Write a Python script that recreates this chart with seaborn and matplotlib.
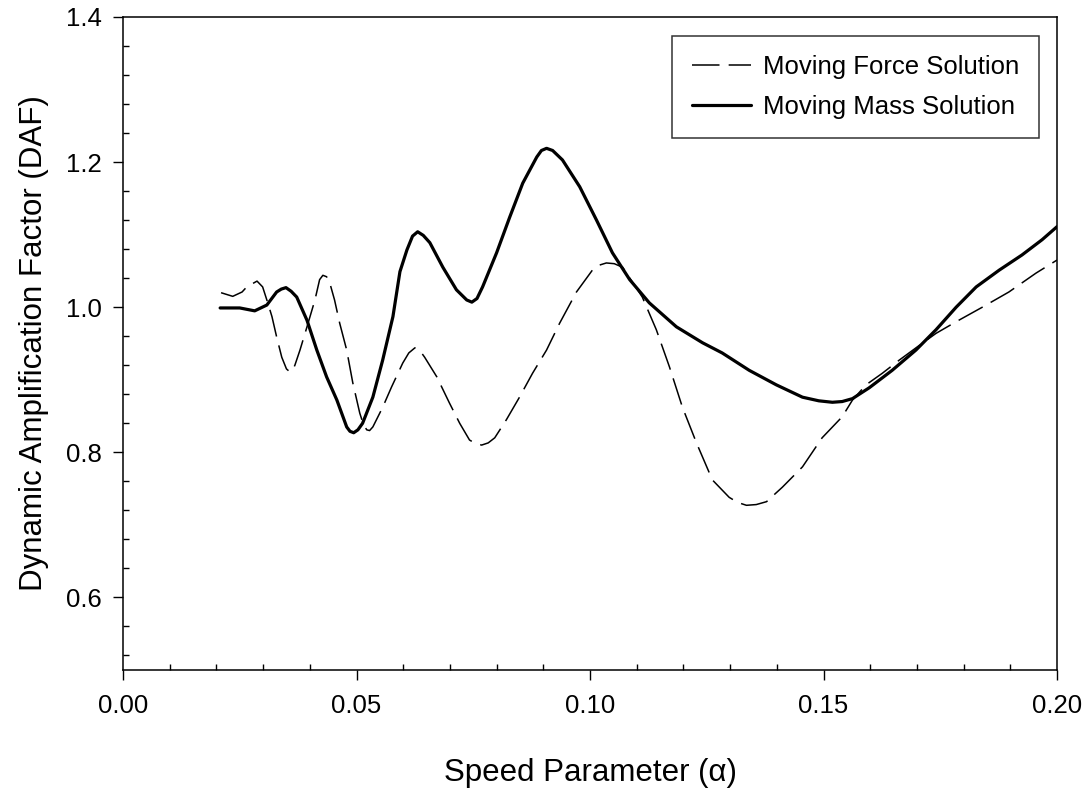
import matplotlib
matplotlib.use("Agg")
import matplotlib.pyplot as plt
import seaborn as sns
import pandas as pd
from matplotlib.ticker import MultipleLocator, FormatStrFormatter

# ---- data ----
mass_x = [0.0208, 0.0250, 0.0282, 0.0308, 0.0329, 0.0339, 0.0349, 0.0360, 0.0372,
          0.0394, 0.0415, 0.0436, 0.0458, 0.0479, 0.0486, 0.0494, 0.0503, 0.0513,
          0.0535, 0.0556, 0.0578, 0.0593, 0.0608, 0.0620, 0.0631, 0.0643, 0.0657,
          0.0685, 0.0714, 0.0736, 0.0747, 0.0758, 0.0770, 0.0800, 0.0828, 0.0856,
          0.0886, 0.0896, 0.0907, 0.0920, 0.0941, 0.0978, 0.1014, 0.1048, 0.1085,
          0.1127, 0.1185, 0.1241, 0.1283, 0.1341, 0.1399, 0.1455, 0.1490, 0.1519,
          0.1540, 0.1562, 0.1598, 0.1647, 0.1698, 0.1741, 0.1784, 0.1827, 0.1876,
          0.1925, 0.1968, 0.2000]
mass_y = [0.999, 0.999, 0.995, 1.003, 1.021, 1.025, 1.027, 1.022, 1.014,
          0.982, 0.941, 0.904, 0.872, 0.835, 0.829, 0.827, 0.831, 0.840,
          0.876, 0.927, 0.987, 1.049, 1.079, 1.098, 1.104, 1.099, 1.089,
          1.055, 1.024, 1.010, 1.007, 1.012, 1.028, 1.075, 1.124, 1.171,
          1.207, 1.216, 1.219, 1.216, 1.203, 1.166, 1.120, 1.075, 1.038,
          1.006, 0.973, 0.951, 0.937, 0.913, 0.893, 0.876, 0.871, 0.869,
          0.870, 0.874, 0.889, 0.913, 0.941, 0.969, 1.000, 1.028, 1.051,
          1.072, 1.093, 1.111]

force_x = [0.0210, 0.0235, 0.0255, 0.0265, 0.0287, 0.0299, 0.0310, 0.0319, 0.0329,
           0.0340, 0.0350, 0.0357, 0.0363, 0.0368, 0.0379, 0.0394, 0.0411, 0.0421,
           0.0428, 0.0436, 0.0443, 0.0453, 0.0464, 0.0479, 0.0492, 0.0507, 0.0515,
           0.0522, 0.0528, 0.0535, 0.0556, 0.0575, 0.0599, 0.0612, 0.0625, 0.0636,
           0.0646, 0.0672, 0.0699, 0.0721, 0.0742, 0.0755, 0.0768, 0.0782, 0.0796,
           0.0821, 0.0849, 0.0877, 0.0907, 0.0935, 0.0971, 0.1005, 0.1020, 0.1035,
           0.1052, 0.1070, 0.1112, 0.1142, 0.1170, 0.1198, 0.1228, 0.1262, 0.1298,
           0.1316, 0.1335, 0.1356, 0.1378, 0.1412, 0.1455, 0.1497, 0.1540, 0.1562,
           0.1591, 0.1626, 0.1662, 0.1698, 0.1741, 0.1784, 0.1840, 0.1897, 0.1955,
           0.2000]
force_y = [1.020, 1.015, 1.021, 1.028, 1.036, 1.028, 1.006, 0.987, 0.959,
           0.931, 0.915, 0.911, 0.913, 0.920, 0.941, 0.973, 1.010, 1.038,
           1.044, 1.042, 1.033, 1.010, 0.978, 0.941, 0.896, 0.854, 0.838,
           0.831, 0.830, 0.835, 0.862, 0.890, 0.923, 0.937, 0.944, 0.940,
           0.931, 0.904, 0.868, 0.840, 0.817, 0.812, 0.810, 0.813, 0.820,
           0.845, 0.876, 0.909, 0.941, 0.978, 1.021, 1.051, 1.058, 1.061,
           1.060, 1.055, 1.014, 0.969, 0.918, 0.862, 0.813, 0.762, 0.738,
           0.731, 0.727, 0.728, 0.732, 0.752, 0.780, 0.820, 0.849, 0.872,
           0.893, 0.909, 0.927, 0.944, 0.964, 0.980, 1.000, 1.021, 1.047,
           1.065]

x_ticks = [0.00, 0.05, 0.10, 0.15, 0.20]
y_ticks = [0.6, 0.8, 1.0, 1.2, 1.4]
labels = ["Moving Force Solution", "Moving Mass Solution"]

sns.set_style("ticks")
plt.rcParams["font.family"] = ["Liberation Sans", "DejaVu Sans"]
plt.rcParams["text.color"] = "black"
plt.rcParams["axes.labelcolor"] = "black"
plt.rcParams["xtick.color"] = "black"
plt.rcParams["ytick.color"] = "black"

fig = plt.figure(figsize=(10.91, 7.90), dpi=100)
ax = fig.add_axes([123 / 1091, 1 - 670 / 790, (1057 - 123) / 1091, (670 - 17) / 790])

df_force = pd.DataFrame({"x": force_x, "y": force_y})
df_mass = pd.DataFrame({"x": mass_x, "y": mass_y})

sns.lineplot(data=df_force, x="x", y="y", ax=ax, color="black", linewidth=1.1,
             label=labels[0], sort=False)
ax.lines[-1].set_dashes((18, 6))
sns.lineplot(data=df_mass, x="x", y="y", ax=ax, color="black", linewidth=2.3,
             label=labels[1], sort=False)
for ln in ax.lines:
    ln.set_solid_joinstyle("round")
    ln.set_dash_joinstyle("round")

ax.set_xlim(0.0, 0.2)
ax.set_ylim(0.5, 1.4)
ax.set_xticks(x_ticks)
ax.set_yticks(y_ticks)
ax.xaxis.set_major_formatter(FormatStrFormatter("%.2f"))
ax.yaxis.set_major_formatter(FormatStrFormatter("%.1f"))
ax.xaxis.set_minor_locator(MultipleLocator(0.01))
ax.yaxis.set_minor_locator(MultipleLocator(0.04))
ax.tick_params(which="major", direction="out", length=7.2, width=1.0, colors="black",
               labelsize=18.5, labelcolor="black")
ax.tick_params(axis="x", which="major", pad=10)
ax.tick_params(axis="y", which="major", pad=8)
ax.tick_params(which="minor", direction="in", length=4.5, width=1.0, colors="black")
ax.tick_params(top=False, right=False, which="both")
for s in ax.spines.values():
    s.set_visible(True)
    s.set_linewidth(1.1)
    s.set_color("black")

ax.set_xlabel("Speed Parameter (α)", fontsize=22.5, labelpad=29, color="black")
ax.set_ylabel("Dynamic Amplification Factor (DAF)", fontsize=22.5, labelpad=12,
              color="black")

leg = ax.legend(loc="upper right", bbox_to_anchor=(0.9807, 0.9709), borderaxespad=0,
                fontsize=18.5, handlelength=2.3, handletextpad=0.5, borderpad=0.75,
                labelspacing=0.6, frameon=True, fancybox=False, edgecolor="black")
leg.get_frame().set_linewidth(1.1)
for t in leg.get_texts():
    t.set_color("black")

fig.savefig("out.png", dpi=100)
